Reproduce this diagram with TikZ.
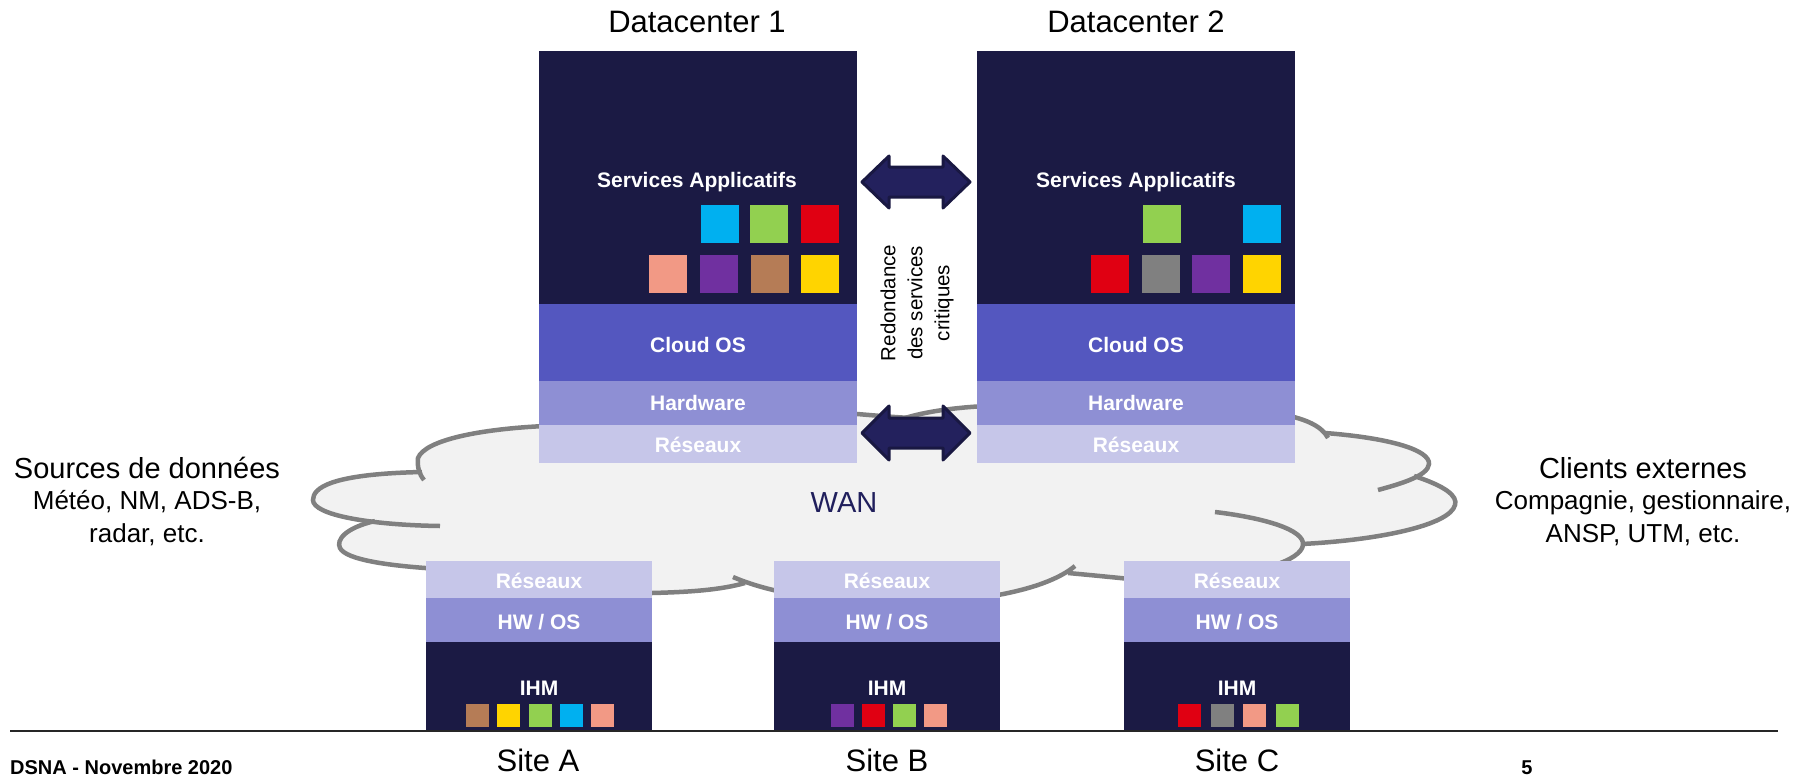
\documentclass[tikz,border=0pt]{standalone}
\usepackage{fontspec}
\setmainfont{Liberation Sans}
\usetikzlibrary{calc}

\definecolor{svcnavy}{HTML}{1B1A44}
\definecolor{oslayer}{HTML}{5457BF}
\definecolor{hwlayer}{HTML}{8E8FD4}
\definecolor{netlayer}{HTML}{C6C6E9}
\definecolor{cloudfill}{HTML}{F2F2F2}
\definecolor{cloudgray}{HTML}{808080}
\definecolor{arrowfill}{HTML}{23215D}
\definecolor{arrowedge}{HTML}{191842}
\definecolor{wantext}{HTML}{201F5C}
\definecolor{appcyan}{HTML}{00B0F0}
\definecolor{appgreen}{HTML}{92D050}
\definecolor{appred}{HTML}{E00012}
\definecolor{apppink}{HTML}{F29985}
\definecolor{apppurple}{HTML}{7030A0}
\definecolor{appbrown}{HTML}{B57C56}
\definecolor{appyellow}{HTML}{FFD400}
\definecolor{appgray}{HTML}{808080}

\tikzset{
  myblk/.style={rectangle, draw=none, inner sep=0pt, outer sep=0pt},
  mydc/.style={myblk, minimum width=318pt},
  mysite/.style={myblk, minimum width=226pt},
  mylbl/.style={text=white, font=\bfseries\fontsize{21}{25}\selectfont, anchor=base, inner sep=0pt},
  appsq/.style={rectangle, draw=none, inner sep=0pt, minimum size=38pt, anchor=north west},
  ihmsq/.style={rectangle, draw=none, inner sep=0pt, minimum size=23pt, anchor=north west},
  cloudline/.style={draw=cloudgray, line width=4.5pt},
  dbllink/.style={fill=arrowfill, draw=arrowedge, line width=3pt, line join=round},
  mytitle/.style={font=\fontsize{31}{36}\selectfont, anchor=base, inner sep=0pt},
  sidehead/.style={font=\fontsize{29}{33}\selectfont, anchor=base, inner sep=0pt},
  sidesub/.style={font=\fontsize{26}{33}\selectfont, anchor=base, inner sep=0pt},
  myfoot/.style={font=\bfseries\fontsize{20}{24}\selectfont, anchor=base, inner sep=0pt},
}

\begin{document}
\begin{tikzpicture}[x=1pt,y=-1pt]
\fill[white] (0,0) rectangle (1798,776);
\useasboundingbox (0,0) rectangle (1798,776);

% ---- WAN cloud: filled envelope ----
\fill[cloudfill]
  (545,426) .. controls (480,429) and (425,440) .. (418,458)
  .. controls (417,466) and (419,474) .. (424,480) -- (422,472)
  .. controls (330,474) and (313,488) .. (313,500)
  .. controls (313,515) and (370,525) .. (440,526) -- (375,521)
  .. controls (345,528) and (336,540) .. (340,548)
  .. controls (346,560) and (390,566) .. (440,569)
  -- (560,595) -- (652,593)
  .. controls (690,592) and (720,590) .. (745,583) -- (733,577)
  .. controls (820,615) and (1020,612) .. (1075,566) -- (1068,573)
  -- (1124,578) -- (1250,578) -- (1275,565)
  .. controls (1290,560) and (1302,553) .. (1303,545)
  .. controls (1380,540) and (1450,525) .. (1455,505)
  .. controls (1458,496) and (1445,486) .. (1414,476) -- (1378,490)
  .. controls (1400,484) and (1428,476) .. (1429,464)
  .. controls (1430,450) and (1390,438) .. (1325,433) -- (1328,438)
  .. controls (1322,426) and (1305,419) .. (1285,415)
  -- (1000,404) -- (985,406)
  .. controls (950,408) and (925,412) .. (905,418) -- (912,418)
  .. controls (890,417) and (870,415) .. (845,413)
  -- (560,418) -- cycle;

% ---- WAN cloud: lobe outlines ----
\draw[cloudline] (545,426) .. controls (480,429) and (425,440) .. (418,458)
  .. controls (417,466) and (419,474) .. (424,480);
\draw[cloudline] (422,472) .. controls (330,474) and (313,488) .. (313,500)
  .. controls (313,515) and (370,525) .. (440,526);
\draw[cloudline] (375,521) .. controls (345,528) and (336,540) .. (340,548)
  .. controls (346,560) and (390,566) .. (440,569);
\draw[cloudline] (630,594) -- (652,593) .. controls (690,592) and (720,590) .. (745,583);
\draw[cloudline] (733,577) .. controls (820,615) and (1020,612) .. (1075,566);
\draw[cloudline] (1068,573) .. controls (1090,575) and (1110,577) .. (1130,579);
\draw[cloudline] (1215,512) .. controls (1265,518) and (1305,530) .. (1303,545)
  .. controls (1302,553) and (1290,560) .. (1275,565);
\draw[cloudline] (1414,476) .. controls (1445,486) and (1458,496) .. (1455,505)
  .. controls (1450,525) and (1380,540) .. (1302,544);
\draw[cloudline] (1325,433) .. controls (1390,438) and (1430,450) .. (1429,464)
  .. controls (1428,476) and (1400,484) .. (1378,490);
\draw[cloudline] (1285,415) .. controls (1305,419) and (1322,426) .. (1328,438);
\draw[cloudline] (845,413) .. controls (870,415) and (890,417) .. (912,418);
\draw[cloudline] (905,418) .. controls (925,412) and (950,408) .. (985,406);

\node[text=wantext, font=\fontsize{29}{33}\selectfont, anchor=base, inner sep=0pt] (wan) at (844,512) {WAN};

% ---- Datacenter stacks ----
\node[mydc, fill=svcnavy,  minimum height=253pt] (dc1svc) at (698,177.5) {};
\node[mydc, fill=oslayer,  minimum height=77pt]  (dc1os)  at (698,342.5) {};
\node[mydc, fill=hwlayer,  minimum height=44pt]  (dc1hw)  at (698,403) {};
\node[mydc, fill=netlayer, minimum height=38pt]  (dc1net) at (698,444) {};

\node[mydc, fill=svcnavy,  minimum height=253pt] (dc2svc) at (1136,177.5) {};
\node[mydc, fill=oslayer,  minimum height=77pt]  (dc2os)  at (1136,342.5) {};
\node[mydc, fill=hwlayer,  minimum height=44pt]  (dc2hw)  at (1136,403) {};
\node[mydc, fill=netlayer, minimum height=38pt]  (dc2net) at (1136,444) {};

\node[mytitle] (dc1title) at (697,33) {Datacenter 1};
\node[mytitle] (dc2title) at (1136,33) {Datacenter 2};

\node[mylbl] (dc1svct) at (697,187) {Services Applicatifs};
\node[mylbl] (dc1ost)  at (698,352) {Cloud OS};
\node[mylbl] (dc1hwt)  at (698,410) {Hardware};
\node[mylbl] (dc1nett) at (698,452) {Réseaux};

\node[mylbl] (dc2svct) at (1136,187) {Services Applicatifs};
\node[mylbl] (dc2ost)  at (1136,352) {Cloud OS};
\node[mylbl] (dc2hwt)  at (1136,410) {Hardware};
\node[mylbl] (dc2nett) at (1136,452) {Réseaux};

% application services hosted in each datacenter
\node[appsq, fill=appcyan]   (d1a1) at (701,205) {};
\node[appsq, fill=appgreen]  (d1a2) at (750,205) {};
\node[appsq, fill=appred]    (d1a3) at (801,205) {};
\node[appsq, fill=apppink]   (d1b1) at (649,255) {};
\node[appsq, fill=apppurple] (d1b2) at (700,255) {};
\node[appsq, fill=appbrown]  (d1b3) at (751,255) {};
\node[appsq, fill=appyellow] (d1b4) at (801,255) {};

\node[appsq, fill=appgreen]  (d2a1) at (1143,205) {};
\node[appsq, fill=appcyan]   (d2a2) at (1243,205) {};
\node[appsq, fill=appred]    (d2b1) at (1091,255) {};
\node[appsq, fill=appgray]   (d2b2) at (1142,255) {};
\node[appsq, fill=apppurple] (d2b3) at (1192,255) {};
\node[appsq, fill=appyellow] (d2b4) at (1243,255) {};

% ---- redundancy links between datacenters ----
\coordinate (r1w) at (862,182);
\coordinate (r1e) at (970,182);
\draw[dbllink] (r1w) -- ++(27,-26) -- ++(0,11) -- ($(r1e)+(-27,-15)$) -- ++(0,-11)
  -- (r1e) -- ++(-27,26) -- ++(0,-11) -- ($(r1w)+(27,15)$) -- ++(0,11) -- cycle;

\coordinate (r2w) at (862,433);
\coordinate (r2e) at (970,433);
\draw[dbllink] (r2w) -- ++(27,-27) -- ++(0,12) -- ($(r2e)+(-27,-15)$) -- ++(0,-12)
  -- (r2e) -- ++(-27,27) -- ++(0,-12) -- ($(r2w)+(27,15)$) -- ++(0,12) -- cycle;

\node[rotate=90, align=center, inner sep=0pt, font=\fontsize{20.5}{27}\selectfont] (redond) at (917,303)
  {Redondance\\des services\\critiques};

% ---- sites ----
\node[mysite, fill=netlayer, minimum height=37pt] (sAnet) at (539,579.5) {};
\node[mysite, fill=hwlayer,  minimum height=44pt] (sAhw)  at (539,620) {};
\node[mysite, fill=svcnavy,  minimum height=89pt] (sAihm) at (539,686.5) {};
\node[mysite, fill=netlayer, minimum height=37pt] (sBnet) at (887,579.5) {};
\node[mysite, fill=hwlayer,  minimum height=44pt] (sBhw)  at (887,620) {};
\node[mysite, fill=svcnavy,  minimum height=89pt] (sBihm) at (887,686.5) {};
\node[mysite, fill=netlayer, minimum height=37pt] (sCnet) at (1237,579.5) {};
\node[mysite, fill=hwlayer,  minimum height=44pt] (sChw)  at (1237,620) {};
\node[mysite, fill=svcnavy,  minimum height=89pt] (sCihm) at (1237,686.5) {};

\node[mylbl] (sAnett) at (539,588) {Réseaux};
\node[mylbl] (sAhwt)  at (539,629) {HW / OS};
\node[mylbl] (sAihmt) at (539,695) {IHM};
\node[mylbl] (sBnett) at (887,588) {Réseaux};
\node[mylbl] (sBhwt)  at (887,629) {HW / OS};
\node[mylbl] (sBihmt) at (887,695) {IHM};
\node[mylbl] (sCnett) at (1237,588) {Réseaux};
\node[mylbl] (sChwt)  at (1237,629) {HW / OS};
\node[mylbl] (sCihmt) at (1237,695) {IHM};

\node[ihmsq, fill=appbrown]  (sAq1) at (466,704) {};
\node[ihmsq, fill=appyellow] (sAq2) at (497,704) {};
\node[ihmsq, fill=appgreen]  (sAq3) at (529,704) {};
\node[ihmsq, fill=appcyan]   (sAq4) at (560,704) {};
\node[ihmsq, fill=apppink]   (sAq5) at (591,704) {};

\node[ihmsq, fill=apppurple] (sBq1) at (831,704) {};
\node[ihmsq, fill=appred]    (sBq2) at (862,704) {};
\node[ihmsq, fill=appgreen]  (sBq3) at (893,704) {};
\node[ihmsq, fill=apppink]   (sBq4) at (924,704) {};

\node[ihmsq, fill=appred]    (sCq1) at (1178,704) {};
\node[ihmsq, fill=appgray]   (sCq2) at (1211,704) {};
\node[ihmsq, fill=apppink]   (sCq3) at (1243,704) {};
\node[ihmsq, fill=appgreen]  (sCq4) at (1276,704) {};

\node[mytitle] (sAname) at (538,771) {Site A};
\node[mytitle] (sBname) at (887,771) {Site B};
\node[mytitle] (sCname) at (1237,771) {Site C};

% ---- side captions ----
\node[sidehead] (srch) at (147,478) {Sources de données};
\node[sidesub]  (src1) at (147,509) {Météo, NM, ADS-B,};
\node[sidesub]  (src2) at (147,542) {radar, etc.};

\node[sidehead] (clih) at (1643,478) {Clients externes};
\node[sidesub]  (cli1) at (1643,509) {Compagnie, gestionnaire,};
\node[sidesub]  (cli2) at (1643,542) {ANSP, UTM, etc.};

% ---- footer ----
\coordinate (ruleL) at (10,731);
\coordinate (ruleR) at (1778,731);
\draw[line width=2.5pt, color=black!85] (ruleL) -- (ruleR);
\node[myfoot, anchor=base west] (footl) at (10,774) {DSNA - Novembre 2020};
\node[myfoot] (footr) at (1527,774) {5};
\end{tikzpicture}
\end{document}
